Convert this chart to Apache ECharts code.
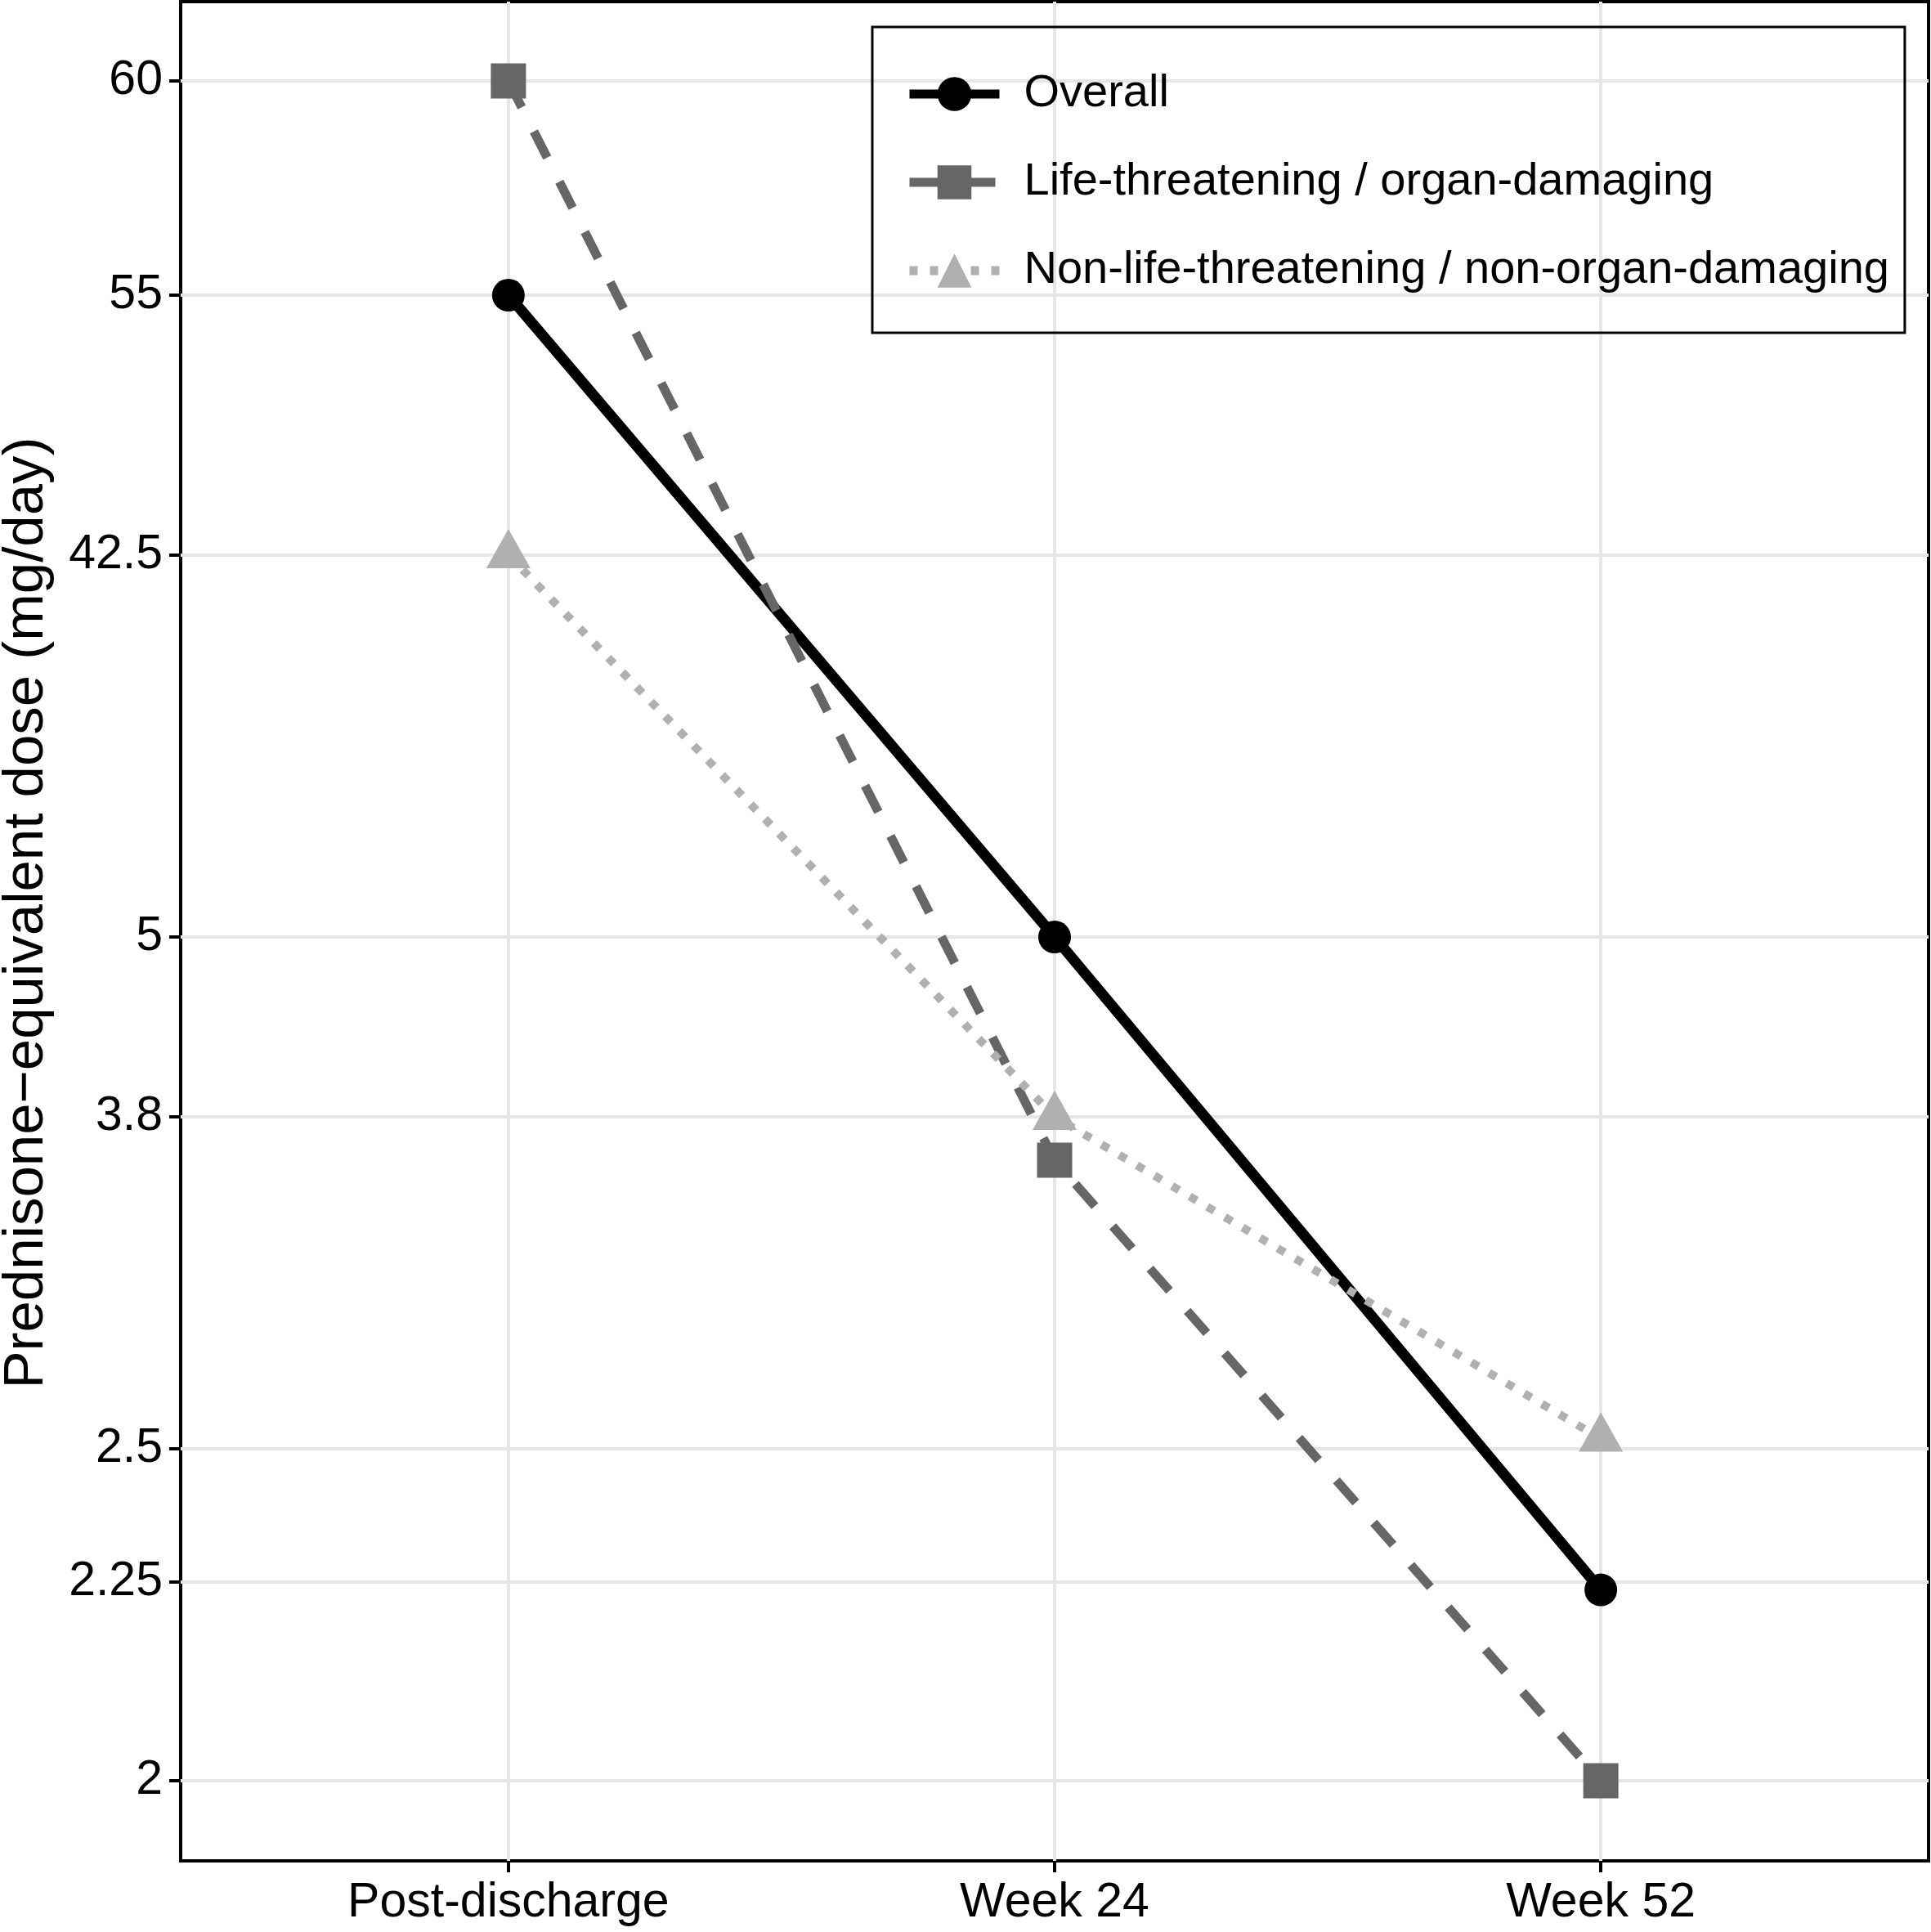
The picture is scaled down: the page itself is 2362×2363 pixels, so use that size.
<!DOCTYPE html>
<html>
<head>
<meta charset="utf-8">
<script src="https://cdn.jsdelivr.net/npm/echarts@6/dist/echarts.min.js"></script>
<style>
  html, body { margin: 0; padding: 0; background: #fff; }
  #main { width: 2362px; height: 2363px; }
</style>
</head>
<body>
<div id="main"></div>
<script>
  var categories = ['Post-discharge', 'Week 24', 'Week 52'];
  var overall = [55, 5, 2.24];
  var lifeThreatening = [60, 3.63, 2];
  var nonLifeThreatening = [42.5, 3.8, 2.54];

  // the y axis is not linear: each tick label and its place on a 0-1000 axis
  var yTickValues = [2, 2.25, 2.5, 3.8, 5, 42.5, 55, 60];
  var yTickLabels = ['2', '2.25', '2.5', '3.8', '5', '42.5', '55', '60'];
  var yTickPos = [43.1, 150, 221.6, 400.2, 496.9, 702.3, 842.1, 957.3];

  var font = "'Liberation Sans', Arial, sans-serif";

  // dose -> axis position, straight between the ticks
  function toAxis(v) {
    for (var i = 0; i < yTickValues.length - 1; i++) {
      var a = yTickValues[i], b = yTickValues[i + 1];
      if (v <= b || i === yTickValues.length - 2) {
        return yTickPos[i] + (v - a) / (b - a) * (yTickPos[i + 1] - yTickPos[i]);
      }
    }
  }
  function points(arr) {
    return arr.map(function (v, i) { return [i + 1, toAxis(v)]; });
  }

  var myChart = echarts.init(document.getElementById('main'), null, { renderer: 'canvas' });

  var option = {
    animation: false,
    backgroundColor: '#fff',
    grid: {
      left: 221, right: 3, top: 2, bottom: 87,
      outerBoundsMode: 'none',
      show: true, borderColor: '#000', borderWidth: 4
    },
    legend: {
      orient: 'vertical',
      left: 1067, top: 33,
      padding: [54, 19, 48, 40],
      borderColor: '#000', borderWidth: 3,
      itemWidth: 110, itemHeight: 52, itemGap: 52,
      lineStyle: { width: 11 },
      textStyle: { fontSize: 56, color: '#000', fontFamily: font, padding: [0, 0, 0, 25] },
      data: ['Overall', 'Life-threatening / organ-damaging', 'Non-life-threatening / non-organ-damaging']
    },
    xAxis: {
      type: 'value', min: 0.4, max: 3.6,
      axisLine: { show: false },
      axisTick: { customValues: [1, 2, 3], length: 14, lineStyle: { color: '#000', width: 4 } },
      axisLabel: {
        customValues: [1, 2, 3], margin: 22, fontSize: 59, color: '#000', fontFamily: font,
        formatter: function (v) { return categories[Math.round(v) - 1]; }
      },
      splitLine: { show: true, lineStyle: { color: '#e6e6e6', width: 4 } }
    },
    yAxis: {
      type: 'value', min: 0, max: 1000,
      name: 'Prednisone\u2212equivalent dose (mg/day)',
      nameLocation: 'middle', nameGap: 154, nameRotate: 90,
      nameTextStyle: { fontSize: 69, color: '#000', fontFamily: font, padding: [0, 0, 0, 45] },
      axisLine: { show: false },
      axisTick: { customValues: yTickPos, length: 14, lineStyle: { color: '#000', width: 4 } },
      axisLabel: {
        customValues: yTickPos, margin: 22, fontSize: 59, color: '#000', fontFamily: font,
        formatter: function (v) {
          for (var i = 0; i < yTickPos.length; i++) {
            if (Math.abs(yTickPos[i] - v) < 0.01) return yTickLabels[i];
          }
          return '';
        }
      },
      splitLine: { show: true, lineStyle: { color: '#e6e6e6', width: 4 } }
    },
    series: [{
      name: 'Overall',
      type: 'line',
      data: points(overall),
      symbol: 'circle', symbolSize: 40,
      itemStyle: { color: '#000' },
      lineStyle: { color: '#000', width: 13 }
    }, {
      name: 'Life-threatening / organ-damaging',
      type: 'line',
      data: points(lifeThreatening),
      symbol: 'rect', symbolSize: 43,
      itemStyle: { color: '#666' },
      lineStyle: { color: '#666', width: 11, type: [36, 33] }
    }, {
      name: 'Non-life-threatening / non-organ-damaging',
      type: 'line',
      data: points(nonLifeThreatening),
      symbol: 'triangle', symbolSize: [54, 48], symbolOffset: [0, -8],
      itemStyle: { color: '#b0b0b0' },
      lineStyle: { color: '#b0b0b0', width: 10, type: [10, 15] }
    }]
  };

  myChart.setOption(option);
</script>
</body>
</html>
